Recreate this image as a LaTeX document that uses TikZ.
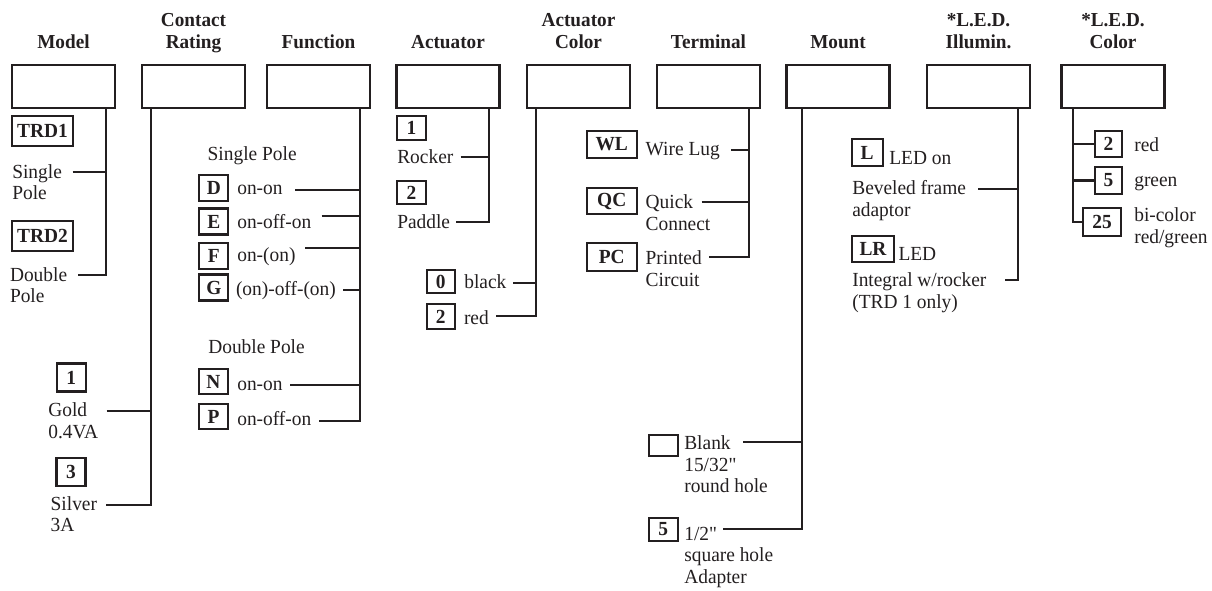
\documentclass[tikz,border=0pt]{standalone}
\usepackage{fontspec}
\setmainfont{Liberation Serif}[Ligatures=TeXOff, FakeStretch=0.97]
\definecolor{ink}{RGB}{35,31,32}
\newcommand{\mlt}[1]{\begin{tabular}[t]{@{}l@{}}#1\end{tabular}}
\newcommand{\mlb}[1]{\begin{tabular}[b]{@{}c@{}}#1\end{tabular}}
\begin{document}
\begin{tikzpicture}[x=1pt,y=-1pt,
  every node/.style={inner sep=0pt, outer sep=0pt, text=ink, font=\fontsize{20}{21.8}\selectfont},
  head/.style={anchor=base, font=\fontsize{19.8}{22}\selectfont\bfseries},
  lbl/.style={anchor=base west},
  bigbox/.style={draw=ink, line width=2.8pt, minimum width=103, minimum height=43},
  code/.style={draw=ink, line width=2.2pt, font=\fontsize{20}{21.8}\selectfont\bfseries},
  conn/.style={draw=ink, line width=2.2pt}]
\useasboundingbox (0,0) rectangle (1212,590);

% headers
\node[head] (hM)  at (63.5,48)  {Model};
\node[head] (hC)  at (193.5,48) {\mlb{Contact\\Rating}};
\node[head] (hF)  at (318.5,48) {Function};
\node[head] (hA)  at (448,48)   {Actuator};
\node[head] (hAC) at (578.5,48) {\mlb{Actuator\\Color}};
\node[head] (hT)  at (708.5,48) {Terminal};
\node[head] (hMo) at (838,48)   {Mount};
\node[head] (hLI) at (978.5,48) {\mlb{*L.E.D.\\Illumin.}};
\node[head] (hLC) at (1113,48)  {\mlb{*L.E.D.\\Color}};

% big boxes
\node[bigbox] (bM)  at (63.5,86.5)  {};
\node[bigbox] (bC)  at (193.5,86.5) {};
\node[bigbox] (bF)  at (318.5,86.5) {};
\node[bigbox] (bA)  at (448,86.5)   {};
\node[bigbox] (bAC) at (578.5,86.5) {};
\node[bigbox] (bT)  at (708.5,86.5) {};
\node[bigbox] (bMo) at (838,86.5)   {};
\node[bigbox] (bLI) at (978.5,86.5) {};
\node[bigbox] (bLC) at (1113,86.5)  {};

% trunk x positions
\coordinate (tM)  at (105.7,0);
\coordinate (tC)  at (151,0);
\coordinate (tF)  at (360,0);
\coordinate (tA)  at (489.3,0);
\coordinate (tAC) at (536,0);
\coordinate (tT)  at (749,0);
\coordinate (tMo) at (802,0);
\coordinate (tLI) at (1018.3,0);
\coordinate (tLC) at (1073.3,0);

% ---- Model
\node[code, minimum width=61, minimum height=30] (cTRD1) at (42.5,131) {TRD1};
\node[code, minimum width=61, minimum height=30] (cTRD2) at (42.5,235.7) {TRD2};
\node[lbl] (lSP) at (12.3,178) {\mlt{Single\\Pole}};
\node[lbl] (lDP) at (10,281) {\mlt{Double\\Pole}};
\coordinate (eM1) at (72.7,171.7);
\coordinate (eM2) at (78,275.3);
\draw[conn] (bM.south -| tM) |- (eM2);
\draw[conn] (eM1) -- (eM1 -| tM);

% ---- Contact rating
\node[code, minimum width=29, minimum height=28] (cCR1) at (71.3,377.5) {1};
\node[code, minimum width=29, minimum height=28] (cCR3) at (71,472) {3};
\node[lbl] (lGold) at (48.3,416.7) {\mlt{Gold\\0.4VA}};
\node[lbl] (lSilver) at (50.7,510) {\mlt{Silver\\3A}};
\coordinate (eC1) at (106.7,411);
\coordinate (eC2) at (106,505);
\draw[conn] (bC.south -| tC) |- (eC2);
\draw[conn] (eC1) -- (eC1 -| tC);

% ---- Function
\node[lbl] (lFSP) at (207.7,160.7) {Single Pole};
\node[code, minimum width=29, minimum height=26] (cD) at (213.8,188) {D};
\node[code, minimum width=29, minimum height=26] (cE) at (213.8,221.5) {E};
\node[code, minimum width=29, minimum height=26] (cF) at (213.8,255.8) {F};
\node[code, minimum width=29, minimum height=26] (cG) at (213.8,287.5) {G};
\node[lbl] (lD) at (237.3,194) {on-on};
\node[lbl] (lE) at (237.3,228) {on-off-on};
\node[lbl] (lF) at (237.3,261.7) {on-(on)};
\node[lbl] (lG) at (236,295) {(on)-off-(on)};
\node[lbl] (lFDP) at (208.3,353.3) {Double Pole};
\node[code, minimum width=28.4, minimum height=25.3] (cN) at (213.5,381.7) {N};
\node[code, minimum width=28.4, minimum height=25.3] (cP) at (213.5,416.7) {P};
\node[lbl] (lN) at (237.3,390) {on-on};
\node[lbl] (lP) at (237.3,425) {on-off-on};
\coordinate (eF1) at (295,190);
\coordinate (eF2) at (321.7,216);
\coordinate (eF3) at (305,248.3);
\coordinate (eF4) at (343.3,290);
\coordinate (eF5) at (290,384.7);
\coordinate (eF6) at (319.3,420.7);
\draw[conn] (bF.south -| tF) |- (eF6);
\foreach \e in {eF1,eF2,eF3,eF4,eF5} \draw[conn] (\e) -- (\e -| tF);

% ---- Actuator
\node[code, minimum width=28.4, minimum height=24] (cA1) at (411.5,128) {1};
\node[code, minimum width=28.4, minimum height=23] (cA2) at (411.5,192.5) {2};
\node[lbl] (lRocker) at (397.3,163.3) {Rocker};
\node[lbl] (lPaddle) at (397.3,228.3) {Paddle};
\coordinate (eA1) at (460.7,157.3);
\coordinate (eA2) at (456,222.3);
\draw[conn] (bA.south -| tA) |- (eA2);
\draw[conn] (eA1) -- (eA1 -| tA);

% ---- Actuator color
\node[code, minimum width=28.3, minimum height=23.3] (cAC0) at (440.8,281.7) {0};
\node[code, minimum width=28.3, minimum height=25] (cAC2) at (440.8,316.5) {2};
\node[lbl] (lBlack) at (464.3,288.3) {black};
\node[lbl] (lRed) at (464,324.3) {red};
\coordinate (eAC1) at (513.3,282.7);
\coordinate (eAC2) at (496,316);
\draw[conn] (bAC.south -| tAC) |- (eAC2);
\draw[conn] (eAC1) -- (eAC1 -| tAC);

% ---- Terminal
\node[code, minimum width=50, minimum height=26.7] (cWL) at (611.7,144.3) {WL};
\node[code, minimum width=50, minimum height=26.7] (cQC) at (611.7,201) {QC};
\node[code, minimum width=50, minimum height=27.4] (cPC) at (611.7,257) {PC};
\node[lbl] (lWL) at (645.7,155) {Wire Lug};
\node[lbl] (lQC) at (645.7,208.3) {\mlt{Quick\\Connect}};
\node[lbl] (lPC) at (645.7,264.3) {\mlt{Printed\\Circuit}};
\coordinate (eT1) at (731,150);
\coordinate (eT2) at (701.7,201.7);
\coordinate (eT3) at (709.3,256.7);
\draw[conn] (bT.south -| tT) |- (eT3);
\draw[conn] (eT1) -- (eT1 -| tT);
\draw[conn] (eT2) -- (eT2 -| tT);

% ---- Mount
\node[code, minimum width=28.7, minimum height=20.7] (cBlank) at (663.3,445.3) {};
\node[code, minimum width=28.7, minimum height=22.4] (cMo5) at (663.3,529.5) {5};
\node[lbl] (lBlank) at (684.3,449.3) {\mlt{Blank\\15/32"\\round hole}};
\node[lbl] (lHalf) at (684.3,540) {\mlt{1/2"\\square hole\\Adapter}};
\coordinate (eMo1) at (743.3,441.7);
\coordinate (eMo2) at (723.3,529.3);
\draw[conn] (bMo.south -| tMo) |- (eMo2);
\draw[conn] (eMo1) -- (eMo1 -| tMo);

% ---- LED illumination
\node[code, minimum width=31, minimum height=26.7] (cL) at (867.2,152.7) {L};
\node[code, minimum width=42.6, minimum height=25.7] (cLR) at (873,248.8) {LR};
\node[lbl] (lLEDon) at (889.3,164.3) {LED on};
\node[lbl] (lBev) at (852.3,194.3) {\mlt{Beveled frame\\adaptor}};
\node[lbl] (lLED) at (898.5,260) {LED};
\node[lbl] (lInt) at (852.3,286.7) {\mlt{Integral w/rocker\\(TRD 1 only)}};
\coordinate (eLI1) at (978.3,189.3);
\coordinate (eLI2) at (1005,280);
\draw[conn] (bLI.south -| tLI) |- (eLI2);
\draw[conn] (eLI1) -- (eLI1 -| tLI);

% ---- LED color
\node[code, minimum width=27, minimum height=26] (cLC2) at (1108.5,144) {2};
\node[code, minimum width=27, minimum height=27] (cLC5) at (1108.5,180.5) {5};
\node[code, minimum width=38, minimum height=27.7] (cLC25) at (1102,222.2) {25};
\node[lbl] (lLCred) at (1134.3,151.7) {red};
\node[lbl] (lLCgreen) at (1134.3,186.7) {green};
\node[lbl] (lLCbi) at (1134.3,221.7) {\mlt{bi-color\\red/green}};
\draw[conn] (bLC.south -| tLC) |- (cLC25.west);
\draw[conn] (cLC2.west -| tLC) -- (cLC2.west);
\draw[conn] (cLC5.west -| tLC) -- (cLC5.west);
\end{tikzpicture}
\end{document}
